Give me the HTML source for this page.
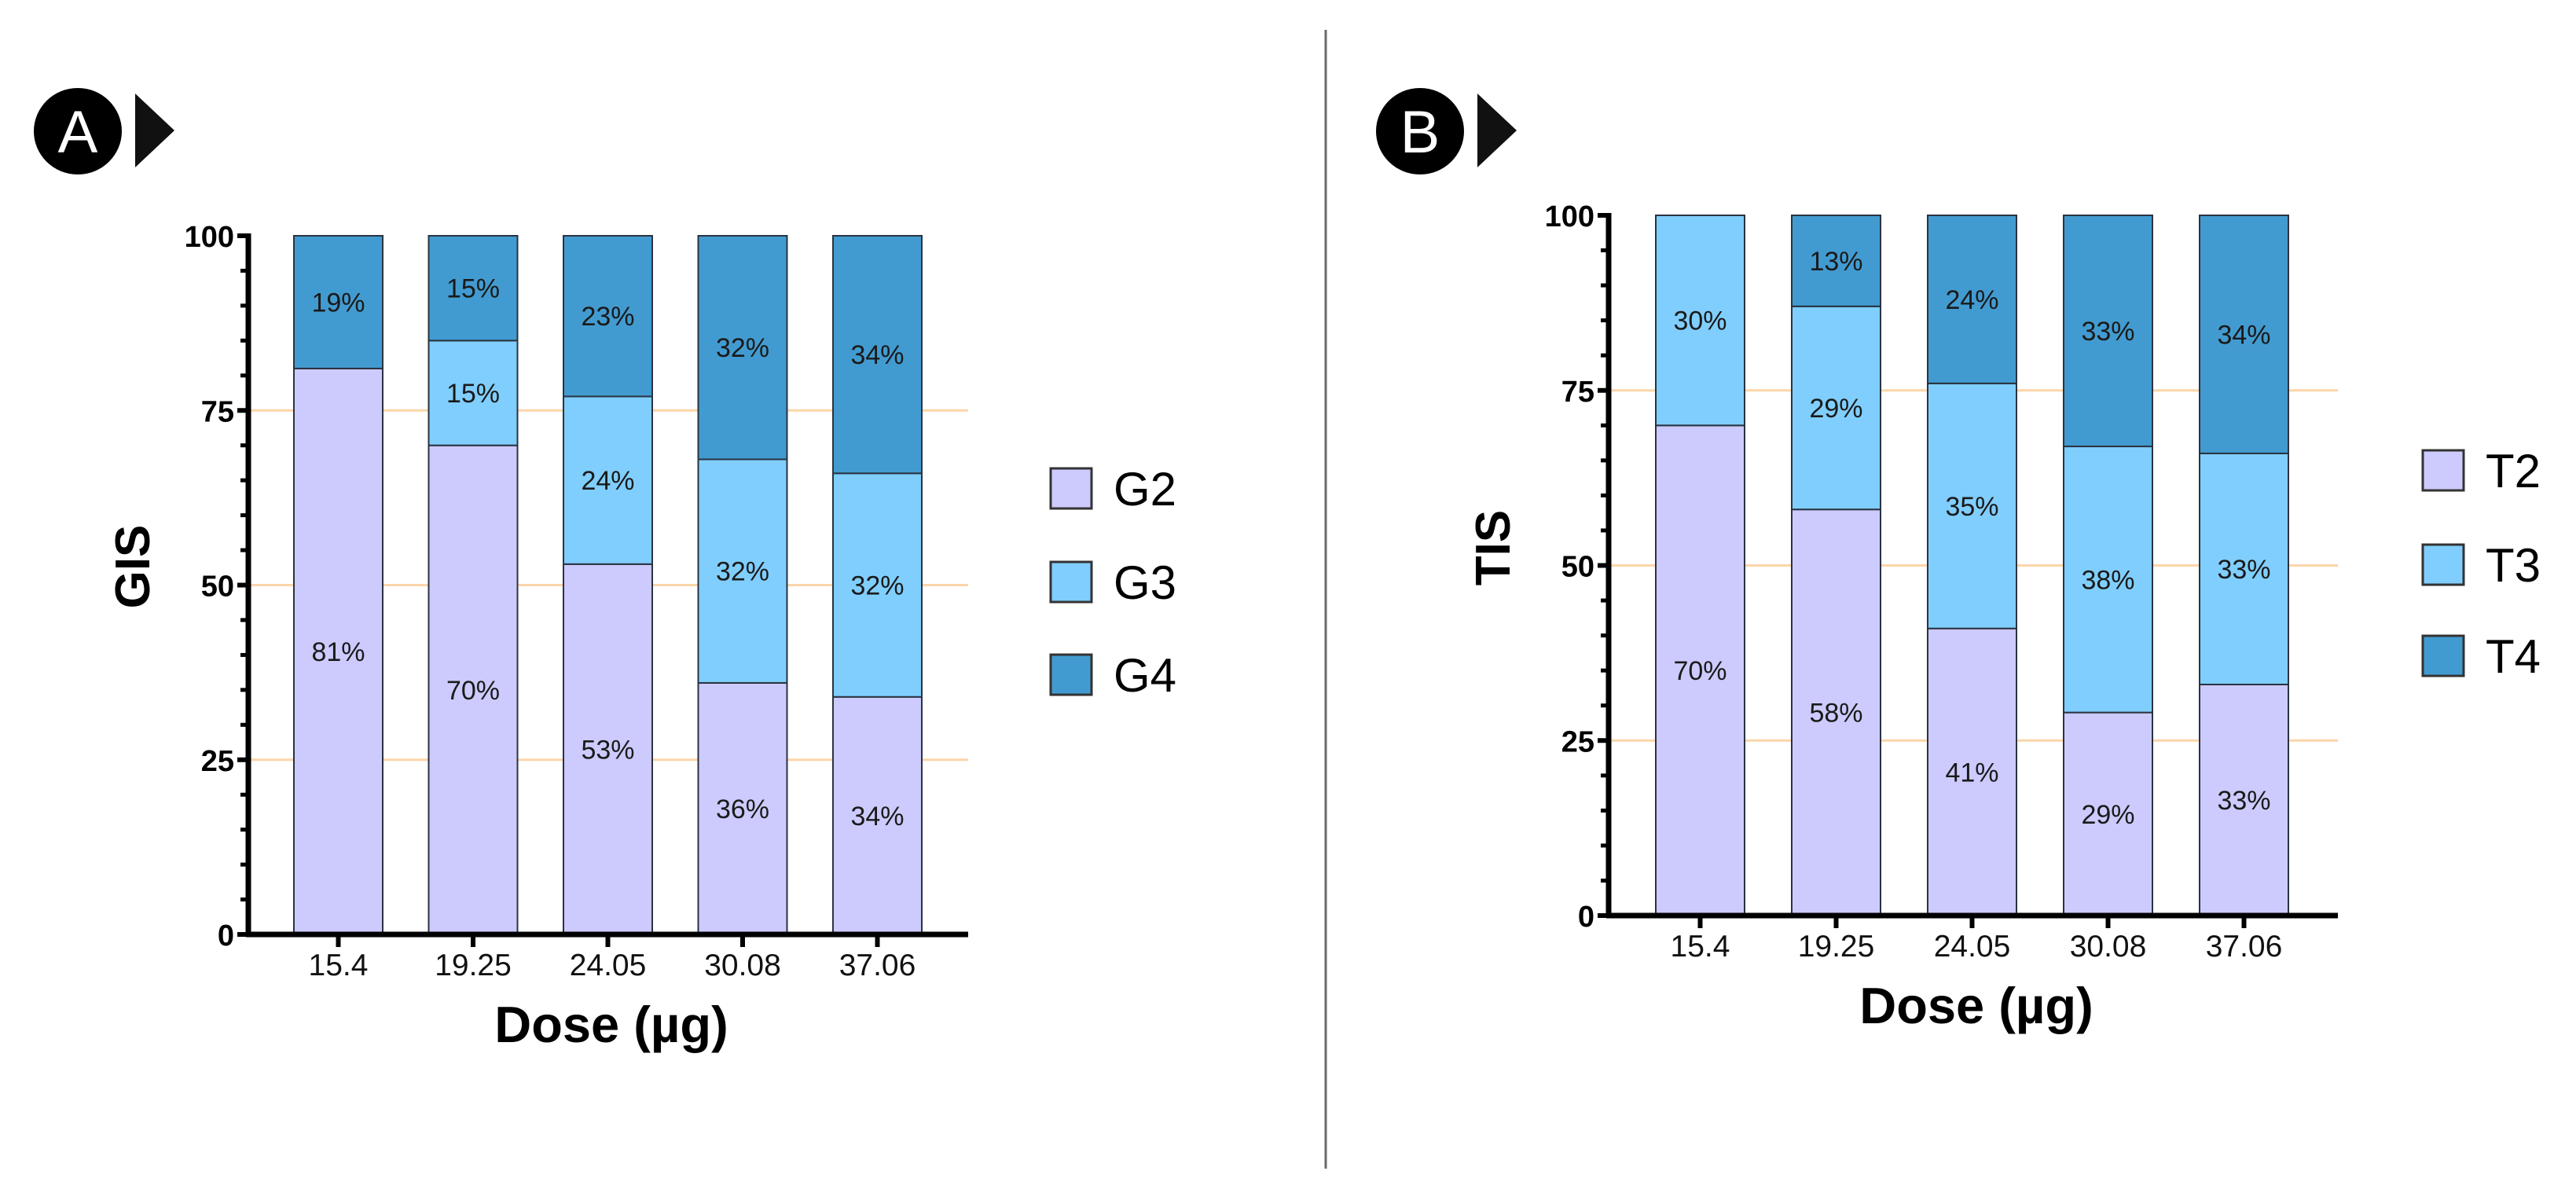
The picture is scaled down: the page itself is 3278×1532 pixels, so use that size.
<!DOCTYPE html>
<html><head><meta charset="utf-8">
<style>
html,body{margin:0;padding:0;background:#fff;}
svg{display:block;font-family:"Liberation Sans",Arial,sans-serif;}
</style></head>
<body>
<svg id="fig" width="3278" height="1532" viewBox="0 0 3278 1532" xmlns="http://www.w3.org/2000/svg">
  <rect x="0" y="0" width="3278" height="1532" fill="#fff"/>
  <line x1="1687" y1="38" x2="1687" y2="1487" stroke="#6a6a6a" stroke-width="3"/>
</svg>
<script>
const doseCategories = ["15.4","19.25","24.05","30.08","37.06"];
const gisG2 = [81,70,53,36,34];
const gisG3 = [0,15,24,32,32];
const gisG4 = [19,15,23,32,34];
const tisT2 = [70,58,41,29,33];
const tisT3 = [30,29,35,38,33];
const tisT4 = [0,13,24,33,34];
const yTickLabels = [0,25,50,75,100];
const seriesNamesA = ["G2","G3","G4"];
const seriesNamesB = ["T2","T3","T4"];

const NS="http://www.w3.org/2000/svg";
const svg=document.getElementById('fig');
const colors=["#cdcbfd","#80cefd","#429bd0"];
function mk(tag,attrs,parent){const e=document.createElementNS(NS,tag);for(const k in attrs)e.setAttribute(k,attrs[k]);(parent||svg).appendChild(e);return e;}

function panel(cfg){
  const g=mk('g',{});
  
  
  const yScale=v=>cfg.y0-(v/100)*(cfg.y0-cfg.y100);
  const xCenter=i=>cfg.bar0+cfg.barW/2+i*cfg.step;
  // gridlines
  yTickLabels.forEach(v=>{
    if(v===0||v===100)return;
    const l=mk('line',{x1:cfg.ax,y1:yScale(v),x2:cfg.axEnd,y2:yScale(v),stroke:"#fbd5a9","stroke-width":3},g);
    
    
  });
  // bars
  const series=[cfg.s1,cfg.s2,cfg.s3];
  doseCategories.forEach((c,i)=>{
    let base=0;
    series.forEach((s,k)=>{
      const v=s[i];
      if(v<=0)return;
      const top=base+v;
      const r=mk('rect',{x:xCenter(i)-cfg.barW/2,y:yScale(top),width:cfg.barW,height:yScale(base)-yScale(top),fill:colors[k],stroke:"#2a3340","stroke-width":2},g);
      
      
      const t=mk('text',{x:xCenter(i),y:yScale(base+v/2)+12,"text-anchor":"middle","font-size":34,fill:"#1a1a1a"},g);
      t.textContent=v+"%";
      
      
      base=top;
    });
  });
  // axes
  const ya=mk('line',{x1:cfg.ax,y1:cfg.y100-3,x2:cfg.ax,y2:cfg.y0+3,stroke:"#000","stroke-width":7},g);
  
  
  const xa=mk('line',{x1:cfg.ax-3,y1:cfg.y0,x2:cfg.axEnd,y2:cfg.y0,stroke:"#000","stroke-width":7},g);
  
  
  for(let v=0;v<=100;v+=5){
    const major=v%25===0;
    mk('line',{x1:cfg.ax-(major?14:10),y1:yScale(v),x2:cfg.ax,y2:yScale(v),stroke:"#000","stroke-width":major?6:5},g);
  }
  yTickLabels.forEach(v=>{
    const t=mk('text',{x:cfg.ax-18,y:yScale(v)+14,"text-anchor":"end","font-size":38,"font-weight":"bold"},g);
    t.textContent=v;
    
    
  });
  doseCategories.forEach((c,i)=>{
    mk('line',{x1:xCenter(i),y1:cfg.y0,x2:cfg.y0?xCenter(i):0,y2:cfg.y0+16,stroke:"#000","stroke-width":6},g);
    const t=mk('text',{x:xCenter(i),y:cfg.y0+52,"text-anchor":"middle","font-size":39,fill:"#111"},g);
    t.textContent=c;
    
    
  });
  const xt=mk('text',{x:(cfg.ax+cfg.axEnd)/2+4,y:cfg.y0+137,"text-anchor":"middle","font-size":65,"font-weight":"bold"},g);
  xt.textContent="Dose (µg)";
  
  
  const yt=mk('text',{x:0,y:0,"text-anchor":"middle","font-size":62,"font-weight":"bold",transform:`translate(${cfg.ytx+22},${cfg.yty}) rotate(-90)`},g);
  yt.textContent=cfg.ytitle;
  
  
  // legend
  cfg.names.forEach((n,k)=>{
    const ly=cfg.legY[k];
    const r=mk('rect',{x:cfg.legX,y:ly,width:52,height:51,fill:colors[k],stroke:"#333","stroke-width":3},g);
    
    
    const t=mk('text',{x:cfg.legX+80,y:ly+47,"font-size":60},g);
    t.textContent=n;
    
    
  });
  // badge
  const c=mk('ellipse',{cx:cfg.bx,cy:167,rx:56,ry:55,fill:"#000"},g);
  
  
  const bt=mk('text',{x:cfg.bx,y:194,"text-anchor":"middle","font-size":76,fill:"#fff"},g);
  bt.textContent=cfg.letter;
  
  
  const tr=mk('polygon',{points:`${cfg.bx+73},119 ${cfg.bx+123},166 ${cfg.bx+73},213`,fill:"#111"},g);
  
  
}

panel({name:'chart-a-gis',s1:gisG2,s2:gisG3,s3:gisG4,names:seriesNamesA,
  ax:316,axEnd:1232,y100:300,y0:1189,bar0:374,barW:113,step:171.5,
  ytitle:"GIS",ytx:168,yty:721,legX:1337,legY:[596,715,833],bx:99,letter:"A"});
panel({name:'chart-b-tis',s1:tisT2,s2:tisT3,s3:tisT4,names:seriesNamesB,
  ax:2047,axEnd:2975,y100:274,y0:1165,bar0:2107,barW:113,step:173,
  ytitle:"TIS",ytx:1899,yty:697,legX:3083,legY:[573,693,809],bx:1807,letter:"B"});
</script>
</body></html>
